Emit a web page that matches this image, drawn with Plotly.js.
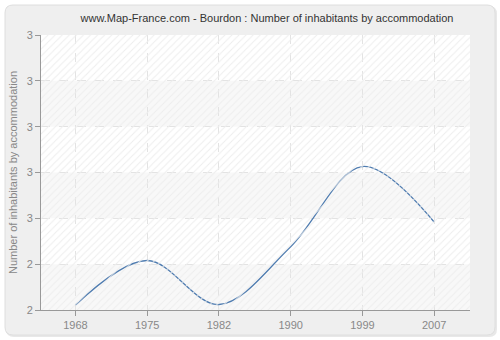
<!DOCTYPE html>
<html>
<head>
<meta charset="utf-8">
<script src="https://cdn.plot.ly/plotly-3.0.1.min.js"></script>
<style>
html,body{margin:0;padding:0;background:#fff;}
#chart{width:500px;height:340px;}
</style>
</head>
<body>
<div id="chart"></div>
<script>
var years = ['1968','1975','1982','1990','1999','2007'];
var inhabitants = [2.311, 2.408, 2.312, 2.438, 2.613, 2.492];
var yTickVals = [2.3, 2.4, 2.5, 2.6, 2.7, 2.8, 2.9];
var yTickText = ['2','2','3','3','3','3','3'];
var bandStarts = [2.3, 2.5, 2.7];

var L = 41, R = 470, T = 35, B = 310;
function px(x){ return (x - L) / (R - L); }
function py(y){ return (B - y) / (B - T); }
function roundRect(x0,y0,x1,y1,r){
  return 'M'+px(x0+r)+','+py(y0)+' L'+px(x1-r)+','+py(y0)+
    ' Q'+px(x1)+','+py(y0)+' '+px(x1)+','+py(y0+r)+
    ' L'+px(x1)+','+py(y1-r)+
    ' Q'+px(x1)+','+py(y1)+' '+px(x1-r)+','+py(y1)+
    ' L'+px(x0+r)+','+py(y1)+
    ' Q'+px(x0)+','+py(y1)+' '+px(x0)+','+py(y1-r)+
    ' L'+px(x0)+','+py(y0+r)+
    ' Q'+px(x0)+','+py(y0)+' '+px(x0+r)+','+py(y0)+' Z';
}

var shapes = [
  {type:'path', xref:'paper', yref:'paper', path: roundRect(6,6,497,337,8), fillcolor:'#e8e8e8', line:{width:0}, layer:'below'},
  {type:'path', xref:'paper', yref:'paper', path: roundRect(5,5,495,335,8), fillcolor:'#efefef', line:{color:'#dedede', width:1}, layer:'below'},
  {type:'rect', xref:'paper', yref:'paper', x0:0, x1:1, y0:0, y1:1, fillcolor:'#ffffff', line:{width:0}, layer:'below'}
];
bandStarts.forEach(function(b){
  shapes.push({type:'rect', xref:'paper', yref:'y', x0:0, x1:1, y0:b, y1:b+0.1, fillcolor:'#f8f8f8', line:{width:0}, layer:'below'});
});

var traces = [
  {
    type:'bar', x:[0.5], y:[1], width:[1], xaxis:'x2', yaxis:'y2',
    marker:{color:'rgba(0,0,0,0)', line:{width:0},
      pattern:{shape:'/', fgcolor:'#eeeeee', bgcolor:'rgba(0,0,0,0)', size:5, solidity:0.2}},
    hoverinfo:'skip', showlegend:false
  },
  {
    type:'scatter', mode:'lines', x: years, y: inhabitants,
    line:{color:'#4f7cb0', width:1.3, shape:'spline', smoothing:1},
    showlegend:false
  }
];

var layout = {
  width:500, height:340,
  margin:{l:L, r:500-R, t:T, b:340-B},
  paper_bgcolor:'#ffffff',
  plot_bgcolor:'rgba(0,0,0,0)',
  font:{family:'Liberation Sans, Arial, sans-serif', color:'#888888', size:11},
  title:{text:'www.Map-France.com - Bourdon : Number of inhabitants by accommodation',
    font:{family:'Liberation Sans, Arial, sans-serif', size:11, color:'#333333'},
    x:267/500, xref:'container', xanchor:'center', y:1-18/340, yref:'container', yanchor:'middle'},
  xaxis:{type:'category', range:[-0.48, 5.5], showline:true, linecolor:'#999999', linewidth:1,
    ticks:'outside', ticklen:5, tickcolor:'#999999', showgrid:true, gridcolor:'#e3e3e3', griddash:'dash',
    tickfont:{size:11, color:'#888888'}, zeroline:false, fixedrange:true},
  yaxis:{range:[2.3, 2.9], tickvals:yTickVals, ticktext:yTickText, showline:true, linecolor:'#999999', linewidth:1,
    ticks:'outside', ticklen:5, tickcolor:'#999999', showgrid:true, gridcolor:'#e3e3e3', griddash:'dash',
    tickfont:{size:11, color:'#888888'}, zeroline:false,
    title:{text:'Number of inhabitants by accommodation', font:{size:11, color:'#888888'}, standoff:6}},
  xaxis2:{overlaying:'x', range:[0,1], visible:false, fixedrange:true},
  yaxis2:{overlaying:'y', range:[0,1], visible:false, fixedrange:true},
  bargap:0,
  shapes: shapes
};

Plotly.newPlot('chart', traces, layout, {displayModeBar:false, staticPlot:true});
</script>
</body>
</html>
